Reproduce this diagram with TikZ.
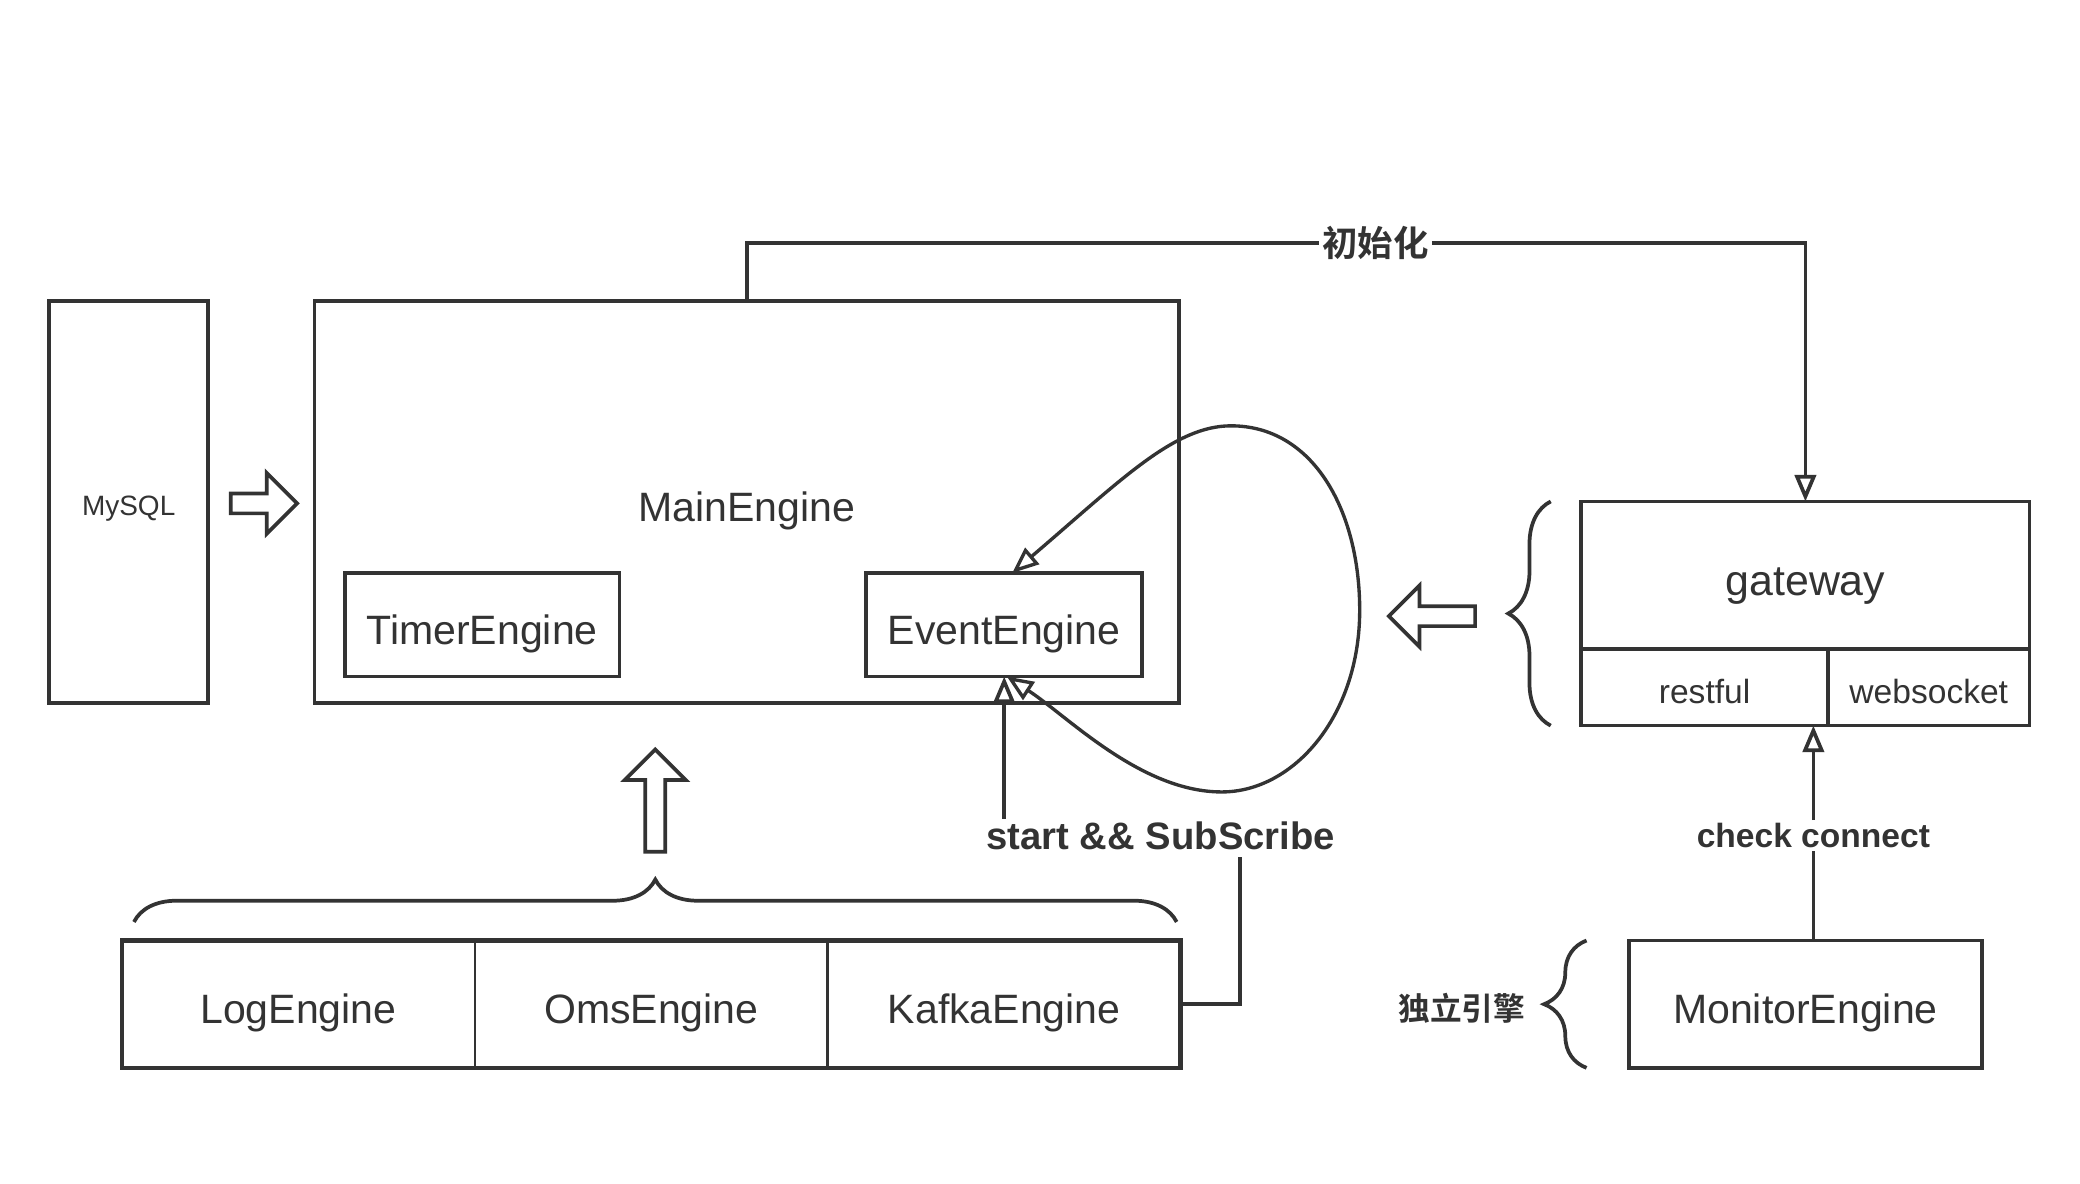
\documentclass[tikz,border=0pt]{standalone}
\usepackage{fontspec}
\setmainfont{Liberation Sans}
\newfontfamily\cjk{Noto Sans CJK SC}[BoldFont={Noto Sans CJK SC Bold}]
\usetikzlibrary{arrows.meta,positioning,calc,decorations.pathreplacing}
\definecolor{ink}{HTML}{333333}
\tikzset{
  enginebox/.style={
    draw=ink,
    line width=2pt,
    text=ink,
    align=center,
    inner sep=0pt,
    outer sep=0pt,
    text height=20.6pt,
    text depth=0pt,
    font=\fontsize{22pt}{26pt}\selectfont
  },
  portbox/.style={enginebox,minimum height=14.5mm,text height=17.2pt,
    font=\fontsize{18pt}{22pt}\selectfont},
  rowbox/.style={enginebox,line width=1.5pt,minimum width=66.5mm,minimum height=24mm},
  plainline/.style={draw=ink,line width=2pt},
  flowarrow/.style={plainline,-{Triangle[open,length=5mm,width=4mm]}},
  edgelabel/.style={text=ink,inner sep=1.5pt,font=\bfseries\fontsize{20.5pt}{24pt}\selectfont},
  hollow/.style={draw=ink,line width=2pt,fill=white,line join=miter},
  bracket/.style={draw=ink,line width=2pt,decorate,decoration={brace,amplitude=8mm}}
}
\newcommand{\hollowarrow}[3]{%
  \draw[hollow,shift={(#1)},rotate=#2]
    (0,-7.5) -- (#3-23,-7.5) -- (#3-23,-23) -- (#3,0) --
    (#3-23,23) -- (#3-23,7.5) -- (0,7.5) -- cycle;}

\begin{document}
\begin{tikzpicture}[x=0.25mm,y=-0.25mm]
  \useasboundingbox (0,0) rectangle (1568,892.5);
  % engines
  \node[enginebox,minimum width=30mm,minimum height=75.75mm,text height=14.2pt,
    font=\fontsize{15pt}{18pt}\selectfont] (mysql) at (97,378.5) {MySQL};
  \node[enginebox,minimum width=163mm,minimum height=75.75mm] (main) at (563,378.5) {MainEngine};
  \node[enginebox,minimum width=51.75mm,minimum height=19.5mm] (timer) at (363.5,471) {TimerEngine};
  \node[enginebox,minimum width=52mm,minimum height=19.5mm] (event) at (757,471) {EventEngine};
  \node[enginebox,minimum width=84.5mm,minimum height=27.75mm,text height=21.5pt,
    font=\fontsize{23pt}{27pt}\selectfont] (gateway) at (1361,433.5) {gateway};
  \node[portbox,minimum width=46.5mm,below right=0pt of gateway.south west] (restful) {restful};
  \node[portbox,minimum width=38mm,right=0pt of restful] (websocket) {websocket};
  \node[rowbox] (log) at (225,757) {LogEngine};
  \node[rowbox,right=0pt of log] (oms) {OmsEngine};
  \node[rowbox,right=0pt of oms] (kafka) {KafkaEngine};
  \draw[draw=ink,line width=2.5pt] (log.north west) rectangle (kafka.south east);
  \node[enginebox,minimum width=66.5mm,minimum height=24mm] (monitor) at (1361,757) {MonitorEngine};
  % labels
  \node[edgelabel,font=\cjk\bfseries\fontsize{19pt}{23pt}\selectfont] (init) at (1037,183) {初始化};
  \node[edgelabel] (subscribe) at (875,630) {start \&\& SubScribe};
  \node[edgelabel,font=\bfseries\fontsize{18pt}{22pt}\selectfont] (check) at (1367,630) {check connect};
  \node[edgelabel,font=\cjk\bfseries\fontsize{17pt}{21pt}\selectfont] (alone) at (1102,760) {独立引擎};
  % connectors
  \draw[plainline] (main.north) |- (init.west);
  \draw[flowarrow] (init.east) -| (gateway.north);
  \coordinate (kafkaturn) at (935,646);
  \draw[plainline] (kafka.east) -| (kafkaturn);
  \draw[flowarrow] (subscribe.north -| event.south) -- (event.south);
  \draw[plainline] (check.south |- monitor.north) -- (check.south);
  \draw[flowarrow] (check.north) -- (check.north |- restful.south);
  \draw[draw=ink,line width=1.8pt,
    {Triangle[open,length=5mm,width=4mm]}-{Triangle[open,length=5mm,width=4mm]}]
    ($(event.north)+(6,0)$) .. controls (845,362) and (885,321) .. (928,321)
    .. controls (990,321) and (1025,385) .. (1025,460)
    .. controls (1025,540) and (975,597) .. (921,597)
    .. controls (860,597) and (805,540) .. ($(event.south)+(2,0)$);
  % braces
  \draw[bracket] ($(restful.south west)+(-23,0)$) -- ($(gateway.north west)+(-23,0)$);
  \draw[bracket] ($(monitor.south west)+(-32,0)$) -- ($(monitor.north west)+(-32,0)$);
  \draw[bracket] ($(log.north west)+(9,-14)$) -- ($(kafka.north east)+(-3,-14)$);
  % hollow arrows
  \hollowarrow{174,379.5}{0}{50}
  \hollowarrow{1112,464.5}{180}{65}
  \hollowarrow{494,642}{90}{77}
\end{tikzpicture}
\end{document}
